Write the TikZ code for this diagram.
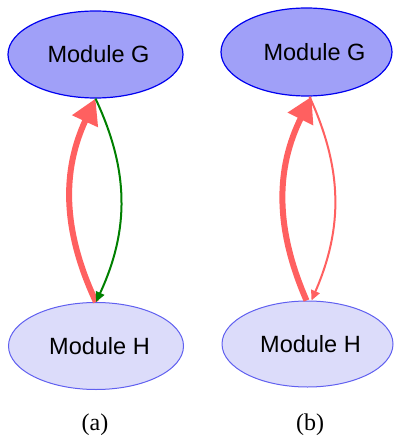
\documentclass[tikz,border=0pt]{standalone}
\usepackage{fontspec}
\setmainfont{Liberation Serif}
\newfontfamily\modfont{Liberation Sans}
\usetikzlibrary{shapes.geometric,arrows.meta}
\definecolor{gfill}{HTML}{A0A0F8}
\definecolor{gdraw}{HTML}{0000F0}
\definecolor{hfill}{HTML}{DCDCFA}
\definecolor{hdraw}{HTML}{6060F0}
\definecolor{edgered}{HTML}{FF6060}
\definecolor{edgegreen}{HTML}{008000}
\tikzset{
  modnode/.style={ellipse, inner sep=0pt, minimum width=175pt, minimum height=87pt,
    font=\modfont\fontsize{23.5}{23.5}\selectfont, text=black},
  gnode/.style={modnode, fill=gfill, draw=gdraw, line width=1.2pt},
  hnode/.style={modnode, fill=hfill, draw=hdraw, line width=1pt},
  thickred/.style={draw=edgered, line width=6pt, -{Triangle[length=25pt,width=27pt]}},
  thinred/.style={draw=edgered, line width=2pt, -{Triangle[length=10pt,width=9pt]}},
  thingreen/.style={draw=edgegreen, line width=2pt, -{Triangle[length=10pt,width=9pt]}},
  caption/.style={font=\fontsize{24}{24}\selectfont}
}
\begin{document}
\begin{tikzpicture}[x=1pt,y=-1pt]
\useasboundingbox (0,0) rectangle (393,441);
\node[gnode] (G1) at (95.5,54.5) {\hspace*{6pt}Module G};
\node[hnode] (H1) at (96,346) {\hspace*{7pt}Module H};
\node[gnode, minimum width=171pt, minimum height=88pt] (G2) at (306.5,52) {\hspace*{16pt}Module G};
\node[hnode, minimum width=171pt, minimum height=86pt] (H2) at (307.5,344) {\hspace*{6pt}Module H};
\draw[thickred] (H1.north) to[bend left=25] (G1.south);
\draw[thingreen] (G1.south) to[bend left=25] (H1.north);
\draw[thickred] ([xshift=-1pt]H2.north) to[bend left=25] ([xshift=5pt]G2.south);
\draw[thinred] ([xshift=3pt]G2.south) to[bend left=24] ([xshift=4pt]H2.north);
\node[caption] (ca) at (95,425) {(a)};
\node[caption] (cb) at (310,425) {(b)};
\end{tikzpicture}
\end{document}
